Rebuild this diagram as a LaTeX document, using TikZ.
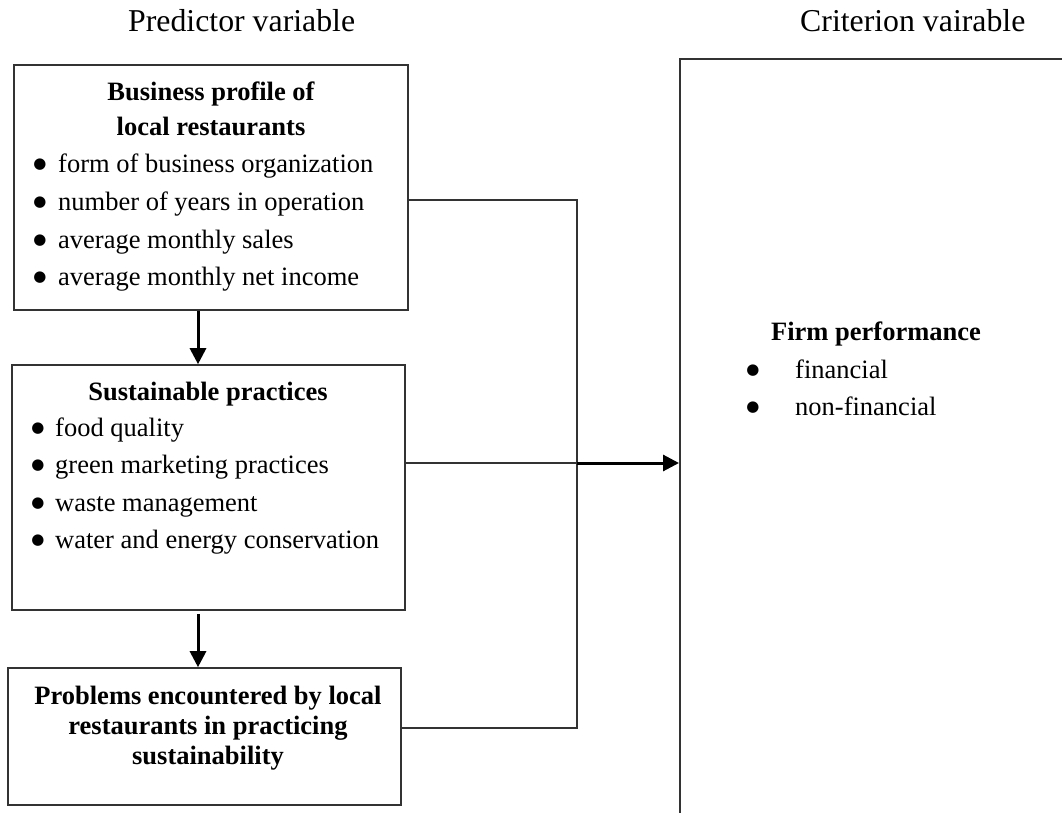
\documentclass[tikz,border=0pt]{standalone}
\usepackage{fontspec}
\setmainfont{Liberation Serif}
\newfontfamily\dejavu{DejaVu Sans}
\usetikzlibrary{arrows.meta}
\begin{document}
\begin{tikzpicture}[x=1pt,y=-1pt,
  box/.style={draw=black!80, line width=1.6pt, inner sep=0pt, rectangle},
  tx/.style={inner sep=0pt, anchor=base west, font=\fontsize{26.5}{30}\selectfont},
  ttl/.style={inner sep=0pt, anchor=base west, font=\fontsize{31.8}{34}\selectfont},
  tb/.style={inner sep=0pt, anchor=base, font=\fontsize{26.5}{30}\selectfont\bfseries},
  bul/.style={inner sep=0pt, anchor=base, font=\fontsize{15}{17}\dejavu},
  thin/.style={draw=black!80, line width=1.5pt},
  arr/.style={draw=black, line width=3pt, -{Triangle[length=16pt,width=16pt]}}
]
\useasboundingbox (0,0) rectangle (1062,813);
\clip (0,0) rectangle (1062,813);

% titles
\node[ttl] (tpred) at (128,32) {Predictor variable};
\node[ttl] (tcrit) at (800,32) {Criterion vairable};

% boxes
\node[box, minimum width=394pt, minimum height=245pt] (b1) at (211,187.5) {};
\node[box, minimum width=393pt, minimum height=245pt] (b2) at (208.5,487.5) {};
\node[box, minimum width=393pt, minimum height=137pt] (b3) at (204.5,736.5) {};
\node[box, minimum width=500pt, minimum height=900pt, anchor=north west] (crit) at (679,58) {};

% box 1 text
\node[tb] (b1t1) at (211,101) {Business profile of};
\node[tb] (b1t2) at (211,136) {local restaurants};
\node[bul] (b1d1) at (40,169) {●};
\node[tx] (b1i1) at (58,173) {form of business organization};
\node[bul] (b1d2) at (40,206) {●};
\node[tx] (b1i2) at (58,210) {number of years in operation};
\node[bul] (b1d3) at (40,244) {●};
\node[tx] (b1i3) at (58,248) {average monthly sales};
\node[bul] (b1d4) at (40,281) {●};
\node[tx] (b1i4) at (58,285) {average monthly net income};

% box 2 text
\node[tb] (b2t) at (208,400) {Sustainable practices};
\node[bul] (b2d1) at (38,432) {●};
\node[tx] (b2i1) at (55,436) {food quality};
\node[bul] (b2d2) at (38,469) {●};
\node[tx] (b2i2) at (55,473) {green marketing practices};
\node[bul] (b2d3) at (38,507) {●};
\node[tx] (b2i3) at (55,511) {waste management};
\node[bul] (b2d4) at (38,544) {●};
\node[tx] (b2i4) at (55,548) {water and energy conservation};

% box 3 text
\node[tb] (b3t1) at (208,704) {Problems encountered by local};
\node[tb] (b3t2) at (208,734) {restaurants in practicing};
\node[tb] (b3t3) at (208,764) {sustainability};

% criterion text
\node[tb] (ct) at (876,340) {Firm performance};
\node[bul] (cd1) at (753,374) {●};
\node[tx] (ci1) at (795,378) {financial};
\node[bul] (cd2) at (753,411) {●};
\node[tx] (ci2) at (795,415) {non-financial};

% connectors
\coordinate (a1) at (198,0);
\coordinate (j1) at (577,200);
\coordinate (j2) at (577,463);
\coordinate (j3) at (577,728);
\draw[arr] (b1.south -| a1) -- (b2.north -| a1);
\draw[arr] ([yshift=-3pt]b2.south -| a1) -- (b3.north -| a1);
\draw[thin] (b1.east |- j1) -- (j1) -- (j3) -- (b3.east |- j3);
\draw[thin] (b2.east |- j2) -- (j2);
\draw[arr] (j2) -- (j2 -| crit.west);
\end{tikzpicture}
\end{document}
